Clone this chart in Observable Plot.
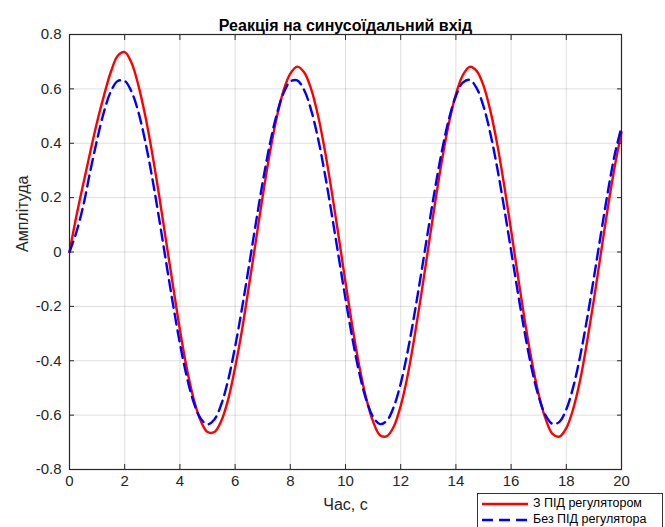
<!DOCTYPE html>
<html>
<head>
<meta charset="utf-8">
<script src="https://cdn.jsdelivr.net/npm/d3@7"></script>
<script src="https://cdn.jsdelivr.net/npm/@observablehq/plot@0.6"></script>
<style>
  html, body { margin: 0; padding: 0; background: #fff; }
  body { width: 665px; height: 527px; overflow: hidden; position: relative; font-family: "Liberation Sans", Arial, sans-serif; }
  #legend { position: absolute; left: 477px; top: 493px; width: 186px; height: 34px; border: 1px solid #333; border-bottom: none; background: #fff; box-sizing: border-box; font-size: 12.5px; color: #000; }
  #legend .row { position: absolute; left: 0; height: 15px; line-height: 15px; display: flex; align-items: center; }
  #legend svg { margin-left: 4px; margin-right: 5px; }
</style>
</head>
<body>
<div id="chart"></div>
<div id="legend"></div>
<script>
const title = "Реакція на синусоїдальний вхід";
const xLabel = "Час, с";
const yLabel = "Амплітуда";
const seriesNames = ["З ПІД регулятором", "Без ПІД регулятора"];
const xTicks = [0, 2, 4, 6, 8, 10, 12, 14, 16, 18, 20];
const yTicks = [-0.8, -0.6, -0.4, -0.2, 0, 0.2, 0.4, 0.6, 0.8];

const time = [0, 0.25, 0.5, 0.75, 1, 1.25, 1.5, 1.75, 2, 2.25, 2.5, 2.75, 3, 3.25, 3.5, 3.75,
  4, 4.25, 4.5, 4.75, 5, 5.25, 5.5, 5.75, 6, 6.25, 6.5, 6.75, 7, 7.25, 7.5, 7.75,
  8, 8.25, 8.5, 8.75, 9, 9.25, 9.5, 9.75, 10, 10.25, 10.5, 10.75, 11, 11.25, 11.5, 11.75,
  12, 12.25, 12.5, 12.75, 13, 13.25, 13.5, 13.75, 14, 14.25, 14.5, 14.75, 15, 15.25, 15.5, 15.75,
  16, 16.25, 16.5, 16.75, 17, 17.25, 17.5, 17.75, 18, 18.25, 18.5, 18.75, 19, 19.25, 19.5, 19.75, 20];

const withPID = [0, 0.132, 0.251, 0.367, 0.478, 0.576, 0.663, 0.722, 0.735, 0.695, 0.611, 0.498, 0.361, 0.206, 0.040, -0.124,
  -0.286, -0.428, -0.541, -0.620, -0.662, -0.662, -0.621, -0.542, -0.425, -0.287, -0.126, 0.039, 0.205, 0.359, 0.491, 0.592,
  0.656, 0.682, 0.661, 0.601, 0.504, 0.375, 0.223, 0.058, -0.112, -0.275, -0.420, -0.538, -0.624, -0.674, -0.677, -0.642,
  -0.566, -0.455, -0.312, -0.153, 0.016, 0.184, 0.340, 0.475, 0.580, 0.650, 0.681, 0.666, 0.612, 0.519, 0.395, 0.245,
  0.080, -0.090, -0.255, -0.402, -0.524, -0.614, -0.669, -0.679, -0.648, -0.577, -0.472, -0.332, -0.175, -0.007, 0.160, 0.312, 0.440];

const withoutPID = [0, 0.073, 0.171, 0.296, 0.413, 0.516, 0.591, 0.629, 0.629, 0.589, 0.513, 0.404, 0.271, 0.121, -0.037, -0.192,
  -0.336, -0.459, -0.553, -0.612, -0.634, -0.616, -0.560, -0.470, -0.349, -0.207, -0.053, 0.105, 0.257, 0.392, 0.503, 0.583,
  0.627, 0.631, 0.596, 0.524, 0.420, 0.289, 0.140, -0.016, -0.172, -0.318, -0.445, -0.543, -0.607, -0.633, -0.620, -0.569,
  -0.484, -0.367, -0.227, -0.074, 0.084, 0.237, 0.375, 0.490, 0.574, 0.623, 0.633, 0.603, 0.536, 0.435, 0.308, 0.161,
  0.005, -0.152, -0.300, -0.430, -0.532, -0.601, -0.632, -0.625, -0.579, -0.497, -0.384, -0.247, -0.094, 0.064, 0.218, 0.356, 0.460];

const colors = ["#ff0000", "#0000ff"];
const dashes = [null, "11,6"];

const rows = time.map((t, i) => ({t, a: withPID[i], b: withoutPID[i]}));
const fmtY = d => (Math.abs(d) < 1e-9 ? "0" : String(+d.toFixed(1)));
const axisColor = "#262626";

const chart = Plot.plot({
  width: 665,
  height: 527,
  marginLeft: 69,
  marginRight: 44,
  marginTop: 34,
  marginBottom: 58,
  style: {fontFamily: "'Liberation Sans', Arial, sans-serif", fontSize: "15px", color: axisColor, background: "#fff"},
  x: {domain: [0, 20]},
  y: {domain: [-0.8, 0.8]},
  marks: [
    Plot.gridX(xTicks, {stroke: "#000", strokeOpacity: 0.13}),
    Plot.gridY(yTicks, {stroke: "#000", strokeOpacity: 0.13}),
    Plot.line(rows, {x: "t", y: "a", stroke: colors[0], strokeWidth: 2.4, curve: "catmull-rom"}),
    Plot.line(rows, {x: "t", y: "b", stroke: colors[1], strokeWidth: 2.4, strokeDasharray: dashes[1], curve: "catmull-rom"}),
    Plot.frame({stroke: axisColor, strokeWidth: 1.2}),
    Plot.axisX(xTicks, {anchor: "bottom", tickSize: -5, tickPadding: 11, label: null, stroke: axisColor, fill: axisColor}),
    Plot.axisX(xTicks, {anchor: "top", tickSize: -5, tickFormat: () => "", label: null, stroke: axisColor}),
    Plot.axisY(yTicks, {anchor: "left", tickSize: -5, tickPadding: 13, tickFormat: fmtY, label: null, stroke: axisColor, fill: axisColor}),
    Plot.axisY(yTicks, {anchor: "right", tickSize: -5, tickFormat: () => "", label: null, stroke: axisColor}),
    Plot.text([title], {frameAnchor: "top", dy: -15, fontWeight: "bold", fontSize: 16, fill: "#000"}),
    Plot.text([xLabel], {frameAnchor: "bottom", dy: 40, fontSize: 16, fill: axisColor}),
    Plot.text([yLabel], {frameAnchor: "left", dx: -47, rotate: -90, fontSize: 16, fill: axisColor})
  ]
});
document.getElementById("chart").appendChild(chart);

const legend = document.getElementById("legend");
seriesNames.forEach((name, i) => {
  const row = document.createElement("div");
  row.className = "row";
  row.style.top = (2 + i * 16) + "px";
  row.innerHTML = `<svg width="46" height="6"><line x1="0" y1="3" x2="46" y2="3" stroke="${colors[i]}" stroke-width="2.4" ${dashes[i] ? `stroke-dasharray="${dashes[i]}"` : ""}/></svg><span>${name}</span>`;
  legend.appendChild(row);
});
</script>
</body>
</html>
